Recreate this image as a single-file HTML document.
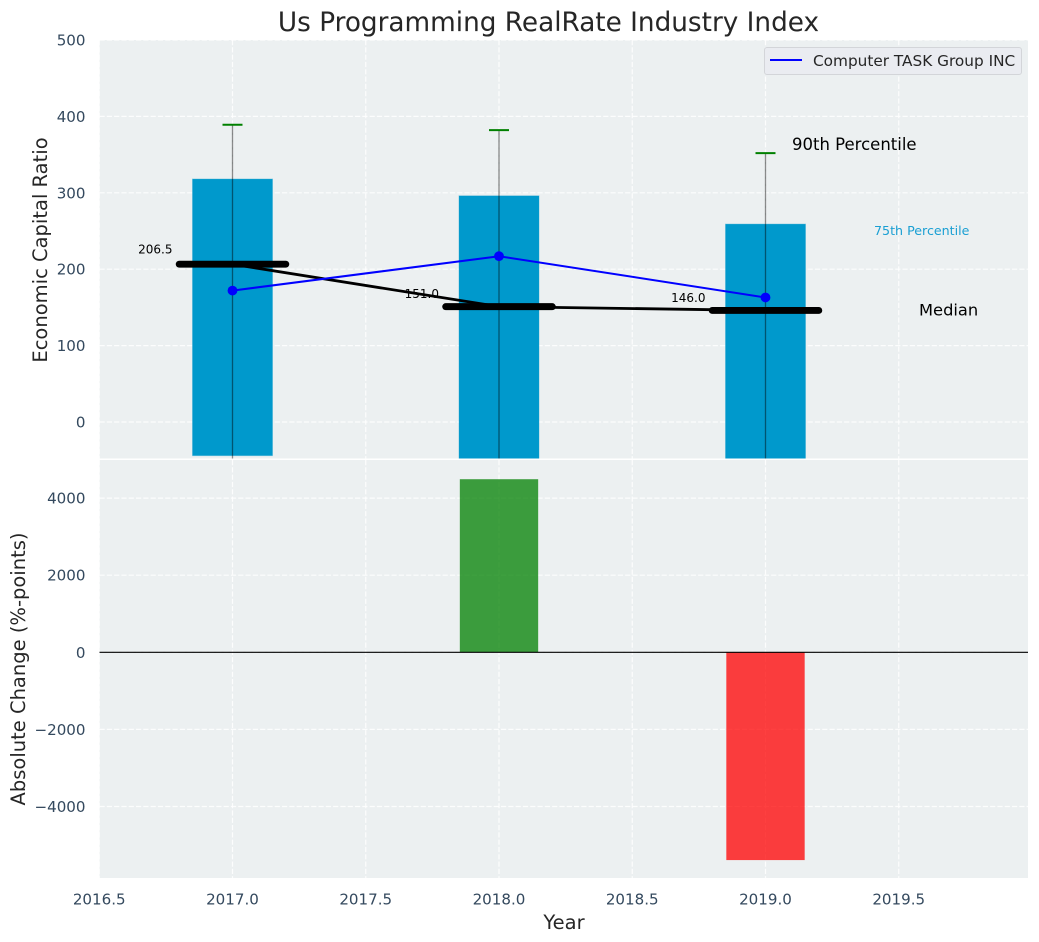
<!DOCTYPE html>
<html>
<head>
<meta charset="utf-8">
<title>Us Programming RealRate Industry Index</title>
<style>
html,body{margin:0;padding:0;background:#fff;}
svg{display:block;font-family:"DejaVu Sans","Liberation Sans",sans-serif;}
</style>
</head>
<body>
<svg id="chart" xmlns="http://www.w3.org/2000/svg" width="1039" height="942" viewBox="0 0 1039 942"></svg>
<script>
const years = [2017, 2018, 2019];
const p90 = [389, 382, 352];
const p75 = [318, 296, 259];
const p25 = [-44, -60, -60];
const p10 = [-70, -80, -80];
const medians = [206.5, 151.0, 146.0];
const company = [172, 217, 163];
const changes = [0, 4490, -5390];
const medianLabels = ['206.5', '151.0', '146.0'];
const xTicks = [2016.5, 2017.0, 2017.5, 2018.0, 2018.5, 2019.0, 2019.5];
const yTopTicks = [0, 100, 200, 300, 400, 500];
const yBottomTicks = [-4000, -2000, 0, 2000, 4000];

const NS = 'http://www.w3.org/2000/svg';
const svg = document.getElementById('chart');
const L = 99.5, R = 1028, T1 = 40, B1 = 458.5, T2 = 460, B2 = 878;
const xScale = v => 232.5 + (v - 2017) * 266.5;
const yTop = v => 422 - v * 0.764;
const yBottom = v => 652.3 - v * 0.03855;

function make(parent, tag, attrs, text) {
  const el = document.createElementNS(NS, tag);
  for (const k in attrs) el.setAttribute(k, attrs[k]);
  if (text !== undefined) el.textContent = text;
  parent.appendChild(el);
  return el;
}

const defs = make(svg, 'defs', {});
const clip1 = make(defs, 'clipPath', {id: 'clip-top'});
make(clip1, 'rect', {x: L, y: T1, width: R - L, height: B1 - T1});
const clip2 = make(defs, 'clipPath', {id: 'clip-bottom'});
make(clip2, 'rect', {x: L, y: T2, width: R - L, height: B2 - T2});

const title = make(svg, 'text', {x: 548.5, y: 31, 'font-size': 26.3, fill: '#262626', 'text-anchor': 'middle'}, 'Us Programming RealRate Industry Index');



const bgTop = make(svg, 'rect', {x: L, y: T1, width: R - L, height: B1 - T1, fill: '#ecf0f1'});


const bgBottom = make(svg, 'rect', {x: L, y: T2, width: R - L, height: B2 - T2, fill: '#ecf0f1'});



const gridStyle = {stroke: '#ffffff', 'stroke-width': 1.2, 'stroke-dasharray': '5.2 2.1', fill: 'none', opacity: 0.85};

const gTop = make(svg, 'g', {'clip-path': 'url(#clip-top)'});


const gBottom = make(svg, 'g', {'clip-path': 'url(#clip-bottom)'});



// Grid lines
xTicks.forEach(t => {
  const a = make(gTop, 'line', Object.assign({x1: xScale(t), x2: xScale(t), y1: T1, y2: B1}, gridStyle));
  
  
  const b = make(gBottom, 'line', Object.assign({x1: xScale(t), x2: xScale(t), y1: T2, y2: B2}, gridStyle));
  
  
});
yTopTicks.forEach(t => {
  const a = make(gTop, 'line', Object.assign({x1: L, x2: R, y1: yTop(t), y2: yTop(t)}, gridStyle));
  
  
});
yBottomTicks.forEach(t => {
  const a = make(gBottom, 'line', Object.assign({x1: L, x2: R, y1: yBottom(t), y2: yBottom(t)}, gridStyle));
  
  
});

// Percentile bars
years.forEach((yr, i) => {
  const x0 = xScale(yr - 0.15), x1 = xScale(yr + 0.15);
  const bar = make(gTop, 'rect', {x: x0, y: yTop(p75[i]), width: x1 - x0, height: yTop(p25[i]) - yTop(p75[i]), fill: '#0099cc', stroke: '#0099cc', 'stroke-opacity': 0.35, 'stroke-width': 1});
  
  
});

// Whiskers
years.forEach((yr, i) => {
  const w = make(gTop, 'line', {x1: xScale(yr), x2: xScale(yr), y1: yTop(p90[i]), y2: yTop(p10[i]), stroke: '#000', 'stroke-opacity': 0.45, 'stroke-width': 1.3});
  
  
  const c = make(gTop, 'line', {x1: xScale(yr - 0.0375), x2: xScale(yr + 0.0375), y1: yTop(p90[i]), y2: yTop(p90[i]), stroke: '#008000', 'stroke-width': 2});
  
  
});

// Median value labels (beneath the median line)
years.forEach((yr, i) => {
  const lift = i === 0 ? 10.5 : 8.5;
  const lbl = make(gTop, 'text', {x: xScale(yr) - 60, y: yTop(medians[i]) - lift, 'font-size': 12, fill: '#000', 'text-anchor': 'end'}, medianLabels[i]);
  
  
});

// Median trend and bars
const medianTrend = make(gTop, 'polyline', {points: years.map((yr, i) => xScale(yr) + ',' + yTop(medians[i])).join(' '), fill: 'none', stroke: '#000', 'stroke-width': 2.8});


years.forEach((yr, i) => {
  const m = make(gTop, 'line', {x1: xScale(yr - 0.2), x2: xScale(yr + 0.2), y1: yTop(medians[i]), y2: yTop(medians[i]), stroke: '#000', 'stroke-width': 6.9, 'stroke-linecap': 'round'});
  
  
});

// Company line
const companyLine = make(gTop, 'polyline', {points: years.map((yr, i) => xScale(yr) + ',' + yTop(company[i])).join(' '), fill: 'none', stroke: '#0000ff', 'stroke-width': 2});


years.forEach((yr, i) => {
  const p = make(gTop, 'circle', {cx: xScale(yr), cy: yTop(company[i]), r: 4.9, fill: '#0000ff'});
  
  
});

// Annotations
const note90 = make(svg, 'text', {x: 792, y: 150, 'font-size': 16.5, fill: '#000'}, '90th Percentile');


const note75 = make(svg, 'text', {x: 874, y: 235, 'font-size': 12.65, fill: '#1a9fd3'}, '75th Percentile');


const noteMed = make(svg, 'text', {x: 919, y: 315.5, 'font-size': 16.3, fill: '#000'}, 'Median');



// Legend
const legend = make(svg, 'g', {});


make(legend, 'rect', {x: 764.5, y: 47.5, width: 257, height: 27, rx: 2.5, fill: '#eaecf1', stroke: '#d3d5d9', 'stroke-width': 1});
const legLine = make(legend, 'line', {x1: 770, x2: 802, y1: 60, y2: 60, stroke: '#0000ff', 'stroke-width': 2});


const legText = make(legend, 'text', {x: 813, y: 66, 'font-size': 15.3, fill: '#262626'}, 'Computer TASK Group INC');



// Change bars
years.forEach((yr, i) => {
  if (changes[i] === 0) return;
  const x0 = xScale(yr - 0.147), x1 = xScale(yr + 0.147);
  const y0 = yBottom(Math.max(changes[i], 0)), y1 = yBottom(Math.min(changes[i], 0));
  const b = make(gBottom, 'rect', {x: x0, y: y0, width: x1 - x0, height: y1 - y0, fill: changes[i] > 0 ? '#008000' : '#ff0000', 'fill-opacity': 0.75, stroke: 'none'});
  
  
});
const zero = make(gBottom, 'line', {x1: L, x2: R, y1: yBottom(0), y2: yBottom(0), stroke: '#000', 'stroke-width': 1.2});



// Tick labels
const tickColor = '#34495e';
xTicks.forEach(t => {
  const tx = make(svg, 'text', {x: xScale(t), y: 904.5, 'font-size': 15.1, fill: tickColor, 'text-anchor': 'middle'}, t.toFixed(1));
  
  
});
yTopTicks.forEach(t => {
  const tx = make(svg, 'text', {x: 85.5, y: yTop(t) + 5.5, 'font-size': 15.1, fill: tickColor, 'text-anchor': 'end'}, String(t));
  
  
});
yBottomTicks.forEach(t => {
  const tx = make(svg, 'text', {x: 85.5, y: yBottom(t) + 5.5, 'font-size': 15.1, fill: tickColor, 'text-anchor': 'end'}, String(t).replace('-', '\u2212'));
  
  
});

// Axis titles
const xTitle = make(svg, 'text', {x: 564, y: 929, 'font-size': 19.5, fill: '#262626', 'text-anchor': 'middle'}, 'Year');


const yTitle1 = make(svg, 'text', {x: 0, y: 0, 'font-size': 19.5, fill: '#262626', 'text-anchor': 'middle', transform: 'translate(47,250) rotate(-90)'}, 'Economic Capital Ratio');


const yTitle2 = make(svg, 'text', {x: 0, y: 0, 'font-size': 19.5, fill: '#262626', 'text-anchor': 'middle', transform: 'translate(25,669) rotate(-90)'}, 'Absolute Change (%-points)');


</script>
</body>
</html>
